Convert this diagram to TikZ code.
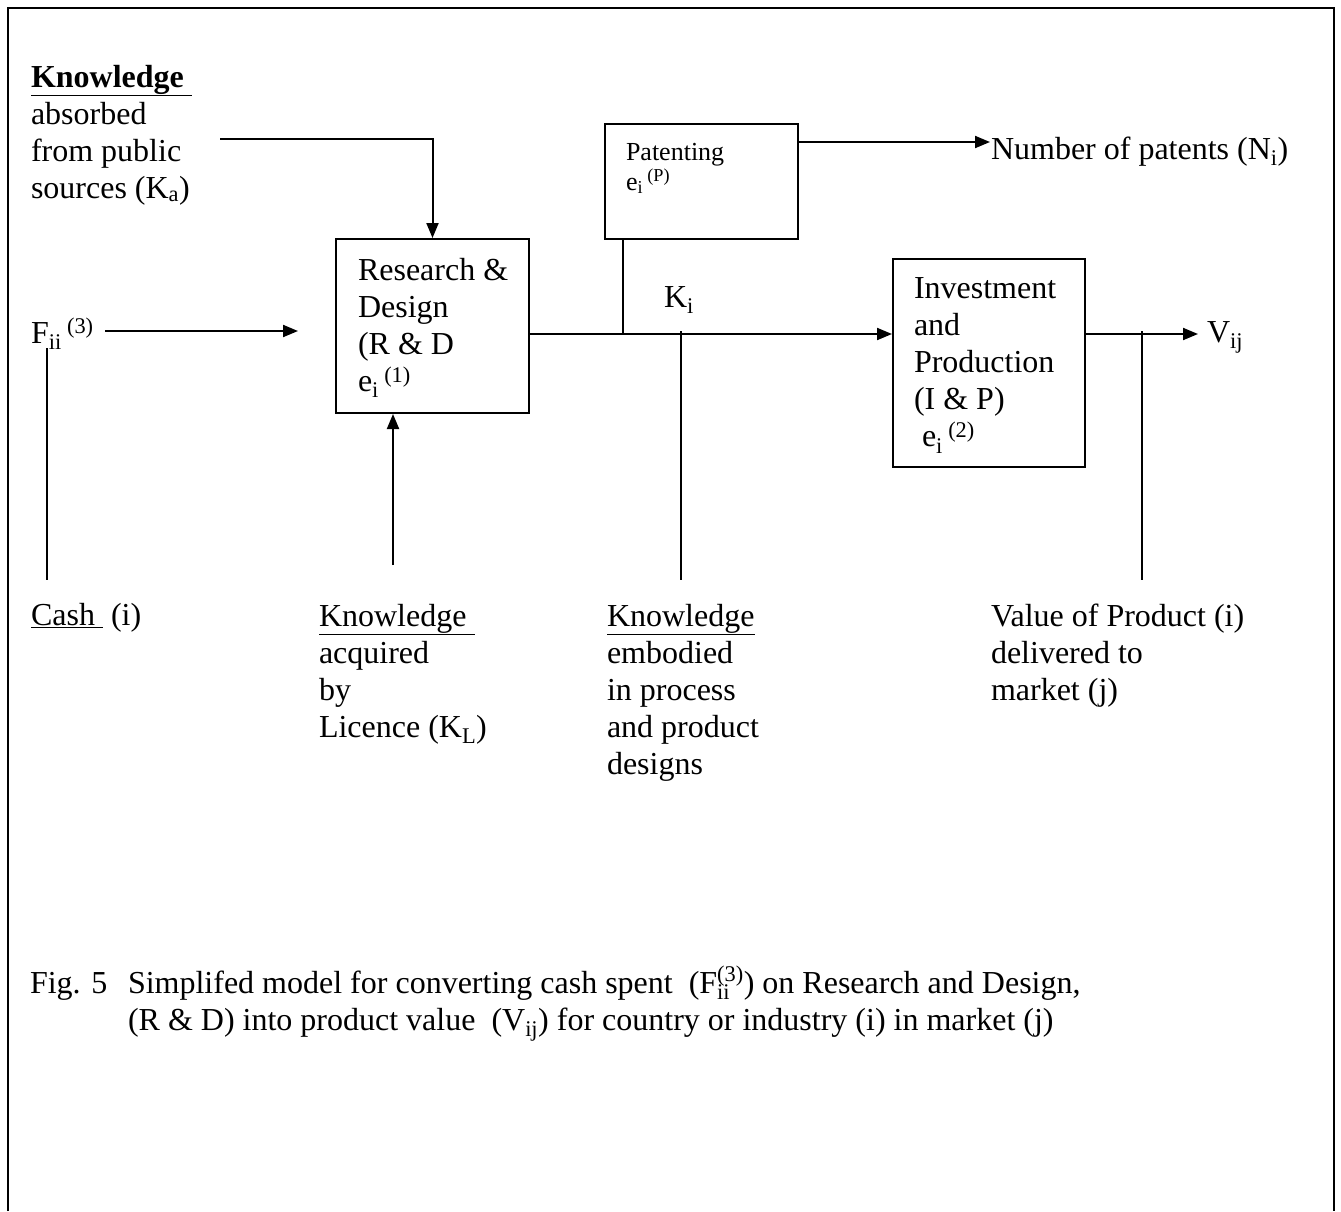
\documentclass[tikz,border=0pt]{standalone}
\usepackage{fontspec}
\setmainfont{Liberation Serif}
\usetikzlibrary{arrows.meta}
\begin{document}
\begin{tikzpicture}[x=1pt,y=-1pt,
  line width=2pt,
  arr/.style={-{Triangle[length=15pt,width=12pt]}},
  txt/.style={inner sep=0pt, font=\fontsize{32}{37}\selectfont, align=left},
  small/.style={inner sep=0pt, font=\fontsize{26}{30}\selectfont, align=left},
  boxnode/.style={draw, inner sep=0pt, anchor=north west}]
\useasboundingbox (0,0) rectangle (1341,1211);
\draw (8,1211) -- (8,8) -- (1334,8) -- (1334,1211);

% boxes
\node[boxnode, minimum width=193pt, minimum height=174pt] (rd) at (335,238) {};
\node[boxnode, minimum width=193pt, minimum height=115pt] (pat) at (604,123) {};
\node[boxnode, minimum width=192pt, minimum height=208pt] (ip) at (892,258) {};

% texts
\node[txt, anchor=north west] (ka) at (30,64) {\textbf{\underline{Knowledge\ }}\\absorbed\\from public\\sources (K\textsubscript{a})};
\node[txt, anchor=base west] (f) at (30,343) {F\textsubscript{ii}\,\textsuperscript{(3)}};
\node[txt, anchor=north west] (rdt) at (357,257) {Research \&\\Design\\(R \& D\\e\textsubscript{i}\,\textsuperscript{(1)}};
\node[small, anchor=north west] (patt) at (625,142) {Patenting\\e\textsubscript{i}\,\textsuperscript{(P)}};
\node[txt, anchor=base west] (np) at (990,159) {Number of patents (N\textsubscript{i})};
\node[txt, anchor=base west] (ki) at (663,307) {K\textsubscript{i}};
\node[txt, anchor=north west] (ipt) at (913,277) {Investment\\and\\Production\\(I \& P)\\\hspace*{8pt}e\textsubscript{i}\,\textsuperscript{(2)}};
\node[txt, anchor=base west] (v) at (1206,342) {V\textsubscript{ij}};

\node[txt, anchor=base west] (cash) at (30,625) {\underline{Cash\ } (i)};
\node[txt, anchor=north west] (kl) at (318,603) {\underline{Knowledge\ }\\acquired\\by\\Licence (K\textsubscript{L})};
\node[txt, anchor=north west] (ke) at (606,603) {\underline{Knowledge}\\embodied\\in process\\and product\\designs};
\node[txt, anchor=north west] (val) at (990,603) {Value of Product (i)\\delivered to\\market (j)};

\node[txt, anchor=base west] (fig) at (29,993) {Fig. 5};
\node[txt, anchor=base west] (cap1) at (127,993) {Simplifed model for converting cash spent\ \ (F\rlap{\textsubscript{ii}}\raisebox{2pt}{\textsuperscript{(3)}}) on Research and Design,};
\node[txt, anchor=base west] (cap2) at (127,1030) {(R \& D) into product value\ \ (V\textsubscript{ij}) for country or industry (i) in market (j)};

% connectors
\coordinate (kaout) at (220,139);
\draw[arr] (kaout) -| (rd.north);
\coordinate (fs) at (105,331);
\coordinate (fe) at (298,331);
\draw[arr] (fs) -- (fe);
\coordinate (cashtop) at (47,348);
\coordinate (cashbot) at (47,580);
\draw (cashtop) -- (cashbot);
\coordinate (licbot) at (393,565);
\draw[arr] (licbot) -- (licbot |- rd.south);
\coordinate (mainy) at (0,334);
\draw[arr] (rd.east |- mainy) -- (ip.west |- mainy);
\coordinate (patx) at (623,0);
\draw (pat.south -| patx) -- (patx |- mainy);
\coordinate (paty) at (0,142);
\draw[arr] (pat.east |- paty) -- (np.west |- paty);
\coordinate (kv) at (681,331);
\coordinate (kvb) at (681,580);
\draw (kv) -- (kvb);
\coordinate (vend) at (1198,334);
\draw[arr] (ip.east |- mainy) -- (vend);
\coordinate (vv) at (1142,331);
\coordinate (vvb) at (1142,580);
\draw (vv) -- (vvb);
\end{tikzpicture}
\end{document}
